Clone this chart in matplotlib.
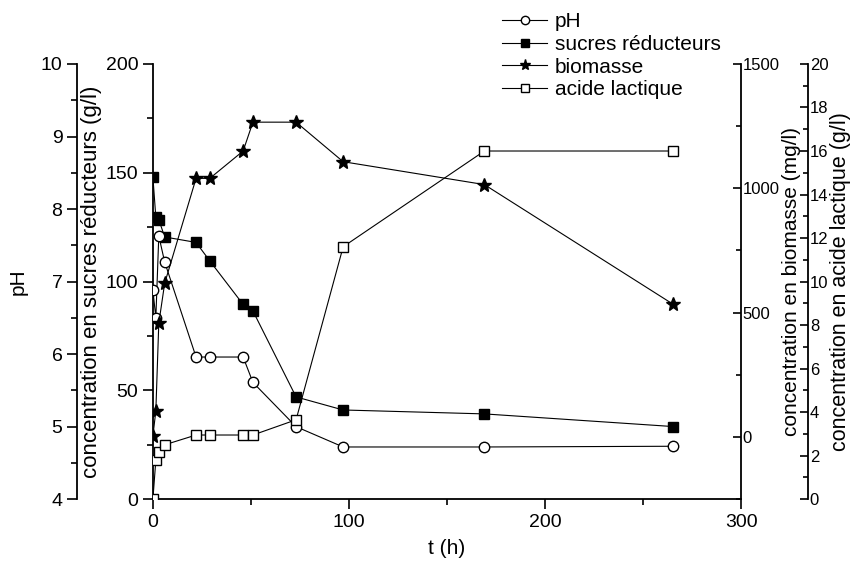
import matplotlib
matplotlib.use("Agg")
import matplotlib.pyplot as plt
from matplotlib.ticker import MultipleLocator

plt.rcParams['font.family'] = ['Liberation Sans', 'DejaVu Sans']

# temps de prélèvement (h)
t = [0, 1.5, 3, 6, 22, 29, 46, 51, 73, 97, 169, 265]
ph = [6.88, 6.5, 7.63, 7.27, 5.96, 5.96, 5.96, 5.61, 5.0, 4.72, 4.72, 4.73]
sucres = [148, 129.5, 128.5, 120.5, 118, 109.5, 89.5, 86.5, 47, 41, 39.2, 33.4]
biomasse = [5, 105, 457, 618, 1040, 1040, 1150, 1266, 1266, 1107, 1015, 535]
lactique = [0, 1.8, 2.15, 2.5, 2.95, 2.95, 2.95, 2.95, 3.65, 11.6, 16.0, 16.0]

fs = 15      # titres des axes
fs_l = 14    # graduations gauche / bas
fs_r = 12    # graduations droite
lw = 0.8

fig = plt.figure(figsize=(8.59, 5.66), dpi=100)
ax = fig.add_axes([0.178, 0.118, 0.685, 0.769])

# axe des sucres (gauche, intérieur)
l2, = ax.plot(t, sucres, '-s', color='black', lw=lw, ms=6.5, mfc='black', label='sucres réducteurs')
ax.set_xlim(0, 300)
ax.set_ylim(0, 200)
ax.xaxis.set_major_locator(MultipleLocator(100))
ax.xaxis.set_minor_locator(MultipleLocator(50))
ax.yaxis.set_major_locator(MultipleLocator(50))
ax.yaxis.set_minor_locator(MultipleLocator(25))
ax.set_xlabel('t (h)', fontsize=fs, labelpad=6)
ax.set_ylabel('concentration en sucres réducteurs (g/l)', fontsize=16, labelpad=3)
ax.spines['top'].set_visible(False)
ax.spines['right'].set_visible(False)

# axe du pH (gauche, décalé)
ax_ph = ax.twinx()
l1, = ax_ph.plot(t, ph, '-o', color='black', lw=lw, ms=7.5, mfc='white', label='pH')
ax_ph.set_ylim(4, 10)
ax_ph.yaxis.set_ticks_position('left')
ax_ph.yaxis.set_label_position('left')
ax_ph.spines['left'].set_position(('axes', -0.129))
for s in ['top', 'right', 'bottom']:
    ax_ph.spines[s].set_visible(False)
ax_ph.yaxis.set_major_locator(MultipleLocator(1))
ax_ph.yaxis.set_minor_locator(MultipleLocator(0.5))
ax_ph.set_ylabel('pH', fontsize=fs, labelpad=9)

# axe de la biomasse (droite)
ax_bio = ax.twinx()
l3, = ax_bio.plot(t, biomasse, '-*', color='black', lw=lw, ms=10, label='biomasse')
ax_bio.set_ylim(-250, 1500)
ax_bio.yaxis.set_major_locator(MultipleLocator(500))
ax_bio.yaxis.set_minor_locator(MultipleLocator(250))
for s in ['top', 'left', 'bottom']:
    ax_bio.spines[s].set_visible(False)
ax_bio.set_ylabel('concentration en biomasse (mg/l)', fontsize=fs, labelpad=2)

# axe de l'acide lactique (droite, décalé)
ax_la = ax.twinx()
l4, = ax_la.plot(t, lactique, '-s', color='black', lw=lw, ms=6.5, mfc='white', label='acide lactique')
ax_la.set_ylim(0, 20)
ax_la.spines['right'].set_position(('axes', 1.114))
for s in ['top', 'left', 'bottom']:
    ax_la.spines[s].set_visible(False)
ax_la.yaxis.set_major_locator(MultipleLocator(2))
ax_la.yaxis.set_minor_locator(MultipleLocator(1))
ax_la.set_ylabel('concentration en acide lactique (g/l)', fontsize=15.5, labelpad=1)

for a in [ax, ax_ph]:
    for sp in a.spines.values():
        sp.set_linewidth(1.3)
    a.tick_params(which='major', length=7, width=1.2, labelsize=fs_l, direction='out')
    a.tick_params(which='minor', length=4, width=1.2, direction='out')
for a in [ax_bio, ax_la]:
    for sp in a.spines.values():
        sp.set_linewidth(1.3)
    a.tick_params(which='major', length=6, width=1.2, labelsize=fs_r, direction='in', pad=1)
    a.tick_params(which='minor', length=3.5, width=1.2, direction='in')

fig.legend([l1, l2, l3, l4], ['pH', 'sucres réducteurs', 'biomasse', 'acide lactique'],
           loc='upper left', bbox_to_anchor=(0.584, 0.978), frameon=False,
           fontsize=fs, handlelength=2.2, handletextpad=0.35, labelspacing=0.17,
           borderpad=0, borderaxespad=0, markerscale=0.8)

fig.savefig('out.png', dpi=100)
